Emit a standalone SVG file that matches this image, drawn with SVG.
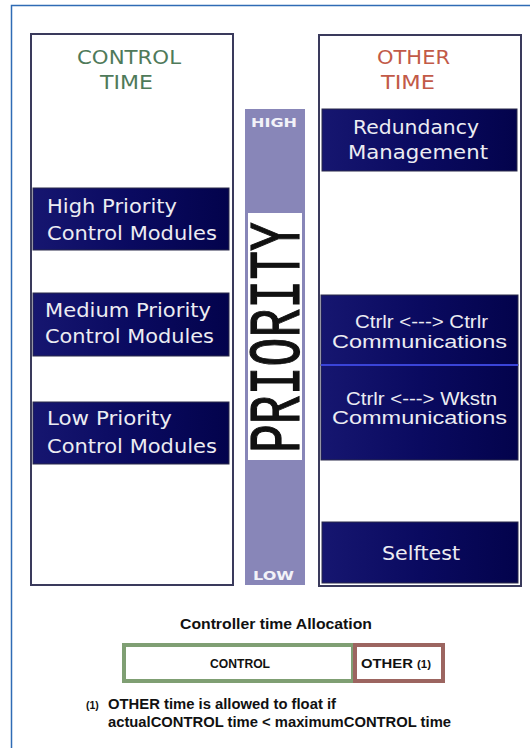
<svg xmlns="http://www.w3.org/2000/svg" width="530" height="748" viewBox="0 0 530 748">
<defs>
<linearGradient id="navy" x1="0" y1="0" x2="1" y2="0">
<stop offset="0" stop-color="#161670"/>
<stop offset="0.5" stop-color="#0a0a60"/>
<stop offset="1" stop-color="#03034c"/>
</linearGradient>
<style>
.panel{fill:#fff;stroke:#3a3a5c;stroke-width:2}
.box{fill:url(#navy);stroke:#2a2a4a;stroke-width:1}
.vt{font-family:"DejaVu Sans",Verdana,sans-serif;font-size:19px;fill:#ececf2}
.at{font-family:"Liberation Sans",Arial,sans-serif;font-size:19px;fill:#ececf2}
.title{font-family:"DejaVu Sans",Verdana,sans-serif;font-size:20px;text-anchor:start}
.hl{font-family:"DejaVu Sans",Verdana,sans-serif;font-size:13px;font-weight:bold;fill:#f2f2f8}
.b{font-family:"Liberation Sans",Arial,sans-serif;font-weight:bold;fill:#111}
</style>
</defs>
<rect width="530" height="748" fill="#fff"/>
<path d="M11.5,748 V5.5 H530" fill="none" stroke="#2f6bb5" stroke-width="1.5"/>

<g id="control-panel">
<rect class="panel" x="31" y="34" width="202" height="551"/>
<text class="title" fill="#4f7a5a" x="77" y="63.5" textLength="104" lengthAdjust="spacingAndGlyphs">CONTROL</text>
<text class="title" fill="#4f7a5a" x="100" y="89" textLength="53" lengthAdjust="spacingAndGlyphs">TIME</text>
</g>

<g id="high-priority">
<rect class="box" x="33" y="188" width="196" height="62"/>
<text class="vt" x="47" y="213" textLength="130" lengthAdjust="spacingAndGlyphs">High Priority</text>
<text class="vt" x="47" y="240" textLength="170" lengthAdjust="spacingAndGlyphs">Control Modules</text>
</g>
<g id="medium-priority">
<rect class="box" x="33" y="293" width="196" height="63"/>
<text class="vt" x="45" y="317" textLength="166" lengthAdjust="spacingAndGlyphs">Medium Priority</text>
<text class="vt" x="45" y="343" textLength="169" lengthAdjust="spacingAndGlyphs">Control Modules</text>
</g>
<g id="low-priority">
<rect class="box" x="33" y="402" width="196" height="62"/>
<text class="vt" x="47" y="425" textLength="125" lengthAdjust="spacingAndGlyphs">Low Priority</text>
<text class="vt" x="47" y="453" textLength="170" lengthAdjust="spacingAndGlyphs">Control Modules</text>
</g>

<g id="priority-bar">
<rect x="245" y="109" width="60" height="476" fill="#8886b8"/>
<rect x="248" y="213" width="54" height="247" fill="#fff"/>
<text class="hl" x="251" y="127" textLength="46" lengthAdjust="spacingAndGlyphs">HIGH</text>
<text class="hl" x="253" y="580" textLength="41" lengthAdjust="spacingAndGlyphs">LOW</text>
<text transform="translate(299,453) rotate(-90)" font-family="'Liberation Mono','Courier New',monospace" font-size="72" fill="#111" stroke="#111" stroke-width="1.2" textLength="231" lengthAdjust="spacingAndGlyphs">PRIORITY</text>
</g>

<g id="other-panel">
<rect class="panel" x="319" y="35" width="202" height="551"/>
<text class="title" fill="#c25a48" x="377" y="63.5" textLength="73" lengthAdjust="spacingAndGlyphs">OTHER</text>
<text class="title" fill="#c25a48" x="381" y="89" textLength="54" lengthAdjust="spacingAndGlyphs">TIME</text>
</g>

<g id="redundancy">
<rect class="box" x="322" y="109" width="195" height="62"/>
<text class="vt" x="353" y="133.5" textLength="126" lengthAdjust="spacingAndGlyphs">Redundancy</text>
<text class="vt" x="348" y="159" textLength="140" lengthAdjust="spacingAndGlyphs">Management</text>
</g>
<g id="ctrlr-ctrlr">
<rect class="box" x="321" y="295" width="197" height="70"/>
<text class="at" x="355" y="328" textLength="133" lengthAdjust="spacingAndGlyphs">Ctrlr &lt;---&gt; Ctrlr</text>
<text class="at" x="332" y="348" textLength="175" lengthAdjust="spacingAndGlyphs">Communications</text>
</g>
<g id="ctrlr-wkstn">
<rect class="box" x="321" y="365" width="197" height="95"/>
<line x1="321" y1="365" x2="518" y2="365" stroke="#3a44d8" stroke-width="2"/>
<text class="at" x="346" y="405" textLength="151" lengthAdjust="spacingAndGlyphs">Ctrlr &lt;---&gt; Wkstn</text>
<text class="at" x="332" y="424" textLength="175" lengthAdjust="spacingAndGlyphs">Communications</text>
</g>
<g id="selftest">
<rect class="box" x="322" y="522" width="196" height="61"/>
<text class="vt" x="382" y="560" textLength="78" lengthAdjust="spacingAndGlyphs">Selftest</text>
</g>

<g id="allocation">
<text class="b" x="180" y="629" font-size="15" textLength="192" lengthAdjust="spacingAndGlyphs">Controller time Allocation</text>
<rect x="124" y="645" width="229" height="36" fill="#fff" stroke="#7f9f73" stroke-width="4"/>
<rect x="355" y="645" width="88" height="36" fill="#fff" stroke="#9c6560" stroke-width="4"/>
<text class="b" x="210" y="668" font-size="13" textLength="60" lengthAdjust="spacingAndGlyphs">CONTROL</text>
<text class="b" x="361" y="668" font-size="13" textLength="70" lengthAdjust="spacingAndGlyphs">OTHER <tspan font-size="10">(1)</tspan></text>
</g>

<g id="footnote">
<text class="b" x="86" y="709" font-size="10.5">(1)</text>
<text class="b" x="108" y="709" font-size="14" textLength="228" lengthAdjust="spacingAndGlyphs">OTHER time is allowed to float if</text>
<text class="b" x="108" y="727" font-size="14" textLength="343" lengthAdjust="spacingAndGlyphs">actualCONTROL time &lt; maximumCONTROL time</text>
</g>
</svg>
